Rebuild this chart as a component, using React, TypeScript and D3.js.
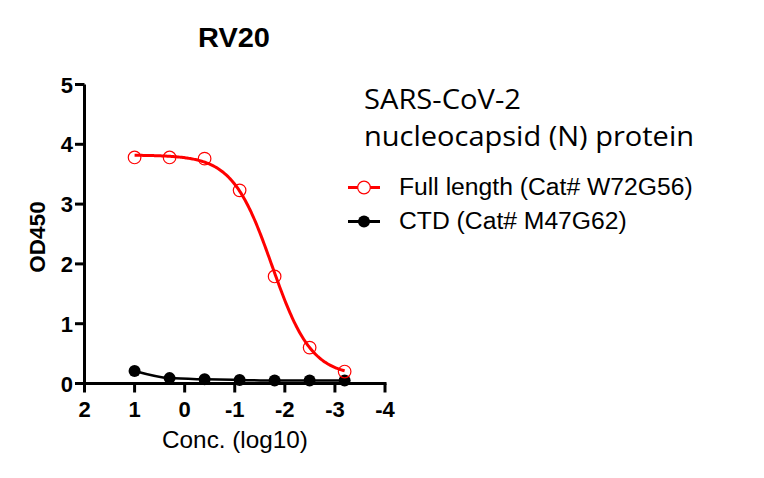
import React from "react";
import * as d3 from "d3";

const concLog = [1, 0.301, -0.398, -1.097, -1.796, -2.495, -3.194];
const fullLength = [3.78, 3.78, 3.76, 3.23, 1.79, 0.6, 0.2];
const ctd = [0.21, 0.09, 0.07, 0.06, 0.05, 0.05, 0.05];
// 4PL fit parameters for the full-length curve: [bottom, top, logEC50, hill]
const fitParams = [0.12, 3.82, -1.744, 1.1];
const xTicks = [2, 1, 0, -1, -2, -3, -4];
const yTicks = [0, 1, 2, 3, 4, 5];
const legendTitle = ["SARS-CoV-2", "nucleocapsid (N) protein"];
const legendLabels = ["Full length (Cat# W72G56)", "CTD (Cat# M47G62)"];

export default function App() {
  const W = 764, H = 478;
  const x = d3.scaleLinear().domain([2, -4]).range([84.5, 385]);
  const y = d3.scaleLinear().domain([0, 5]).range([383.5, 84.5]);
  const [bottom, top, ec50, hill] = fitParams;
  const fit = (v: number) => bottom + (top - bottom) / (1 + Math.pow(10, (ec50 - v) * hill));
  const fitXs = d3.range(0, 201).map((i) => concLog[0] + (concLog[concLog.length - 1] - concLog[0]) * (i / 200));
  const fitLine = d3.line<number>().x((v) => x(v)).y((v) => y(fit(v)))(fitXs) || "";
  const ctdLine = d3
    .line<number>()
    .x((_, i) => x(concLog[i]))
    .y((v) => y(v))
    .curve(d3.curveMonotoneX)(ctd) || "";
  const sans = "'Liberation Sans', Arial, sans-serif";
  const calib = "'Open Sans', 'Noto Sans', sans-serif";
  return (
    <svg width={W} height={H} style={{ position: "absolute", left: 0, top: 0, background: "#fff" }}>
      <rect width={W} height={H} fill="#fff" />
      <text x={234} y={47} textAnchor="middle" fontFamily={sans} fontWeight="bold" fontSize={27} textLength={72} lengthAdjust="spacingAndGlyphs">RV20</text>
      {/* axes */}
      <line x1={84.5} x2={84.5} y1={y(5)} y2={y(0) + 1.5} stroke="#000" strokeWidth={3} />
      <line x1={83} x2={x(-4) + 1.5} y1={y(0)} y2={y(0)} stroke="#000" strokeWidth={3} />
      {yTicks.map((t) => (
        <g key={"y" + t}>
          <line x1={75} x2={84.5} y1={y(t)} y2={y(t)} stroke="#000" strokeWidth={3} />
          <text x={73} y={y(t) + 8} textAnchor="end" fontFamily={sans} fontWeight="bold" fontSize={22}>{t}</text>
        </g>
      ))}
      {xTicks.map((t) => (
        <g key={"x" + t}>
          <line x1={x(t)} x2={x(t)} y1={y(0)} y2={y(0) + 9} stroke="#000" strokeWidth={3} />
          <text x={x(t)} y={417} textAnchor="middle" fontFamily={sans} fontWeight="bold" fontSize={22}>{t}</text>
        </g>
      ))}
      <text transform="translate(45,237) rotate(-90)" textAnchor="middle" fontFamily={sans} fontWeight="bold" fontSize={22.5}>OD450</text>
      <text x={235} y={448} textAnchor="middle" fontFamily={sans} fontSize={24.3}>Conc. (log10)</text>
      {/* series */}
      <path d={ctdLine} fill="none" stroke="#000" strokeWidth={2.5} />
      {ctd.map((v, i) => (
        <circle key={"c" + i} cx={x(concLog[i])} cy={y(v)} r={6} fill="#000" />
      ))}
      <path d={fitLine} fill="none" stroke="#ff0000" strokeWidth={3} />
      {fullLength.map((v, i) => (
        <circle key={"f" + i} cx={x(concLog[i])} cy={y(v)} r={6.3} fill="none" stroke="#ff0000" strokeWidth={1.2} />
      ))}
      {/* legend */}
      <text x={364} y={109} fontFamily={calib} fontSize={27} textLength={157} lengthAdjust="spacingAndGlyphs">{legendTitle[0]}</text>
      <text x={364} y={146} fontFamily={calib} fontSize={27} textLength={330} lengthAdjust="spacingAndGlyphs">{legendTitle[1]}</text>
      <line x1={348} x2={380} y1={187.5} y2={187.5} stroke="#ff0000" strokeWidth={3} />
      <circle cx={364} cy={187.5} r={6.3} fill="#fff" stroke="#ff0000" strokeWidth={1.2} />
      <text x={399} y={195} fontFamily={sans} fontSize={24.7}>{legendLabels[0]}</text>
      <line x1={348} x2={380} y1={221.5} y2={221.5} stroke="#000" strokeWidth={3} />
      <circle cx={364} cy={221.5} r={6} fill="#000" />
      <text x={399} y={228.5} fontFamily={sans} fontSize={24.7}>{legendLabels[1]}</text>
    </svg>
  );
}
